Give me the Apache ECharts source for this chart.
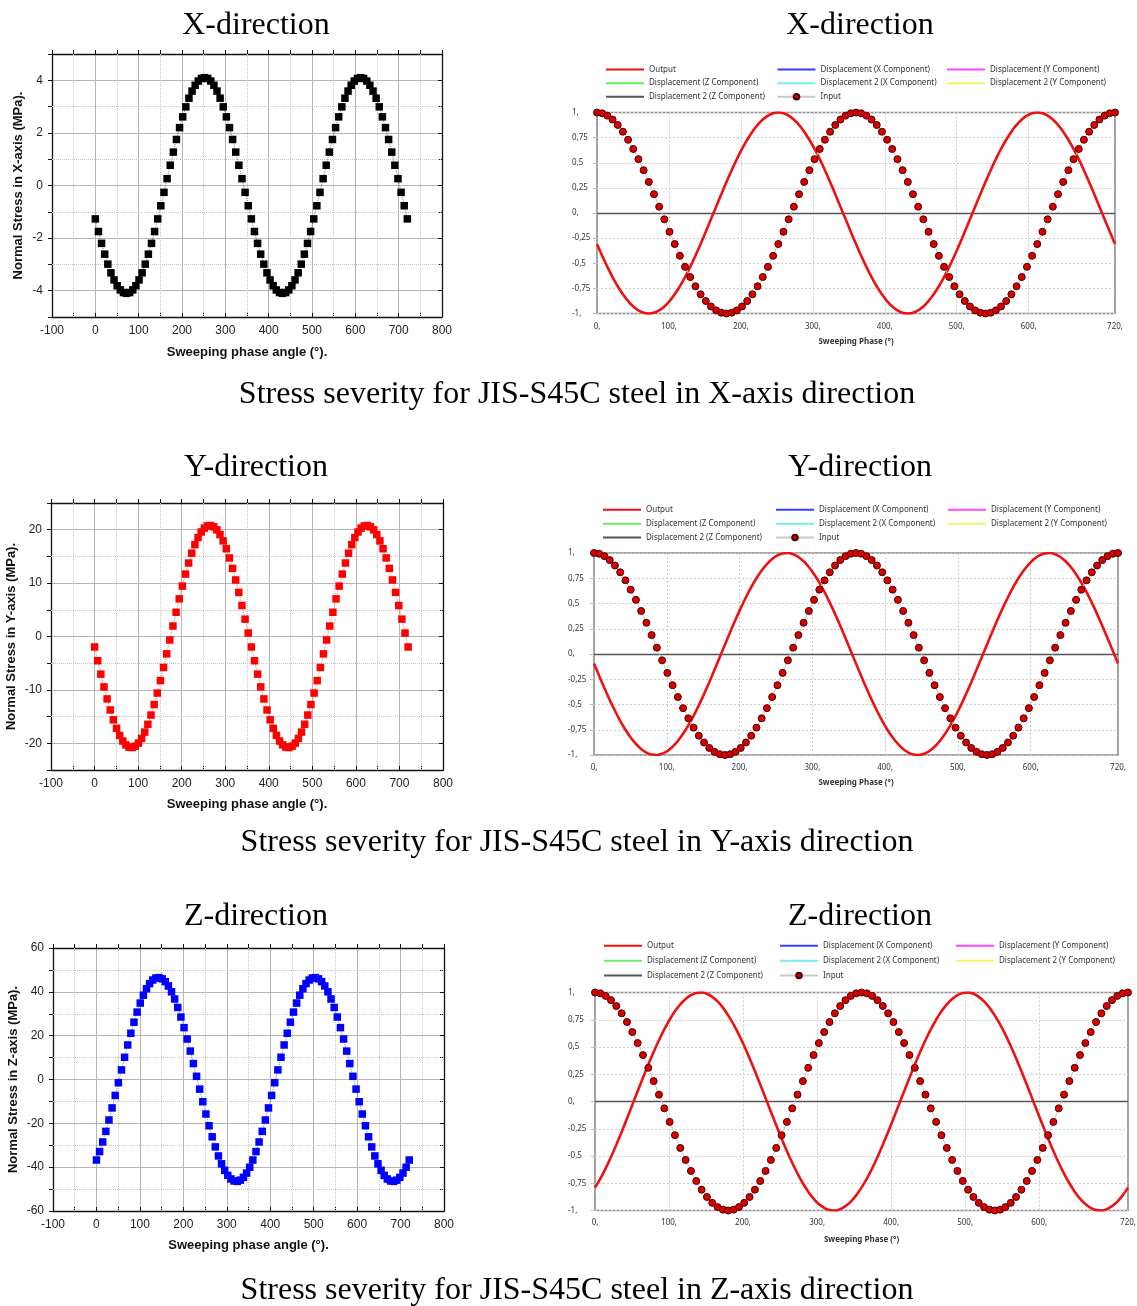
<!DOCTYPE html>
<html>
<head>
<meta charset="utf-8">
<script src="https://cdn.jsdelivr.net/npm/echarts@6/dist/echarts.min.js"></script>
<style>
html,body{margin:0;padding:0;background:#ffffff;}
#c{width:1137px;height:1306px;}
</style>
</head>
<body>
<div id="c"></div>
<script>
// ---------------- DATA ----------------
const phase = [
0,7.2,14.4,21.6,28.8,36,43.2,50.4,57.6,64.8,
72,79.2,86.4,93.6,100.8,108,115.2,122.4,129.6,136.8,
144,151.2,158.4,165.6,172.8,180,187.2,194.4,201.6,208.8,
216,223.2,230.4,237.6,244.8,252,259.2,266.4,273.6,280.8,
288,295.2,302.4,309.6,316.8,324,331.2,338.4,345.6,352.8,
360,367.2,374.4,381.6,388.8,396,403.2,410.4,417.6,424.8,
432,439.2,446.4,453.6,460.8,468,475.2,482.4,489.6,496.8,
504,511.2,518.4,525.6,532.8,540,547.2,554.4,561.6,568.8,
576,583.2,590.4,597.6,604.8,612,619.2,626.4,633.6,640.8,
648,655.2,662.4,669.6,676.8,684,691.2,698.4,705.6,712.8,
720];

// Normal stress, X direction (MPa)
const stressX = [
-1.27,-1.75,-2.20,-2.61,-2.99,-3.32,-3.59,-3.81,-3.97,-4.07,
-4.10,-4.07,-3.97,-3.81,-3.59,-3.32,-2.99,-2.61,-2.20,-1.75,
-1.27,-0.77,-0.26,0.26,0.77,1.27,1.75,2.20,2.61,2.99,
3.32,3.59,3.81,3.97,4.07,4.10,4.07,3.97,3.81,3.59,
3.32,2.99,2.61,2.20,1.75,1.27,0.77,0.26,-0.26,-0.77,
-1.27,-1.75,-2.20,-2.61,-2.99,-3.32,-3.59,-3.81,-3.97,-4.07,
-4.10,-4.07,-3.97,-3.81,-3.59,-3.32,-2.99,-2.61,-2.20,-1.75,
-1.27,-0.77,-0.26,0.26,0.77,1.27,1.75,2.20,2.61,2.99,
3.32,3.59,3.81,3.97,4.07,4.10,4.07,3.97,3.81,3.59,
3.32,2.99,2.61,2.20,1.75,1.27,0.77,0.26,-0.26,-0.77,
-1.27];

// Normal stress, Y direction (MPa)
const stressY = [
-1.96,-4.54,-7.05,-9.44,-11.69,-13.76,-15.60,-17.20,-18.53,-19.57,
-20.30,-20.71,-20.79,-20.54,-19.97,-19.09,-17.90,-16.44,-14.71,-12.75,
-10.59,-8.26,-5.80,-3.25,-0.65,1.96,4.54,7.05,9.44,11.69,
13.76,15.60,17.20,18.53,19.57,20.30,20.71,20.79,20.54,19.97,
19.09,17.90,16.44,14.71,12.75,10.59,8.26,5.80,3.25,0.65,
-1.96,-4.54,-7.05,-9.44,-11.69,-13.76,-15.60,-17.20,-18.53,-19.57,
-20.30,-20.71,-20.79,-20.54,-19.97,-19.09,-17.90,-16.44,-14.71,-12.75,
-10.59,-8.26,-5.80,-3.25,-0.65,1.96,4.54,7.05,9.44,11.69,
13.76,15.60,17.20,18.53,19.57,20.30,20.71,20.79,20.54,19.97,
19.09,17.90,16.44,14.71,12.75,10.59,8.26,5.80,3.25,0.65,
-1.96];

// Normal stress, Z direction (MPa)
const stressZ = [
-36.74,-32.88,-28.50,-23.67,-18.47,-12.97,-7.27,-1.46,4.38,10.14,
15.75,21.11,26.14,30.75,34.88,38.46,41.43,43.75,45.38,46.29,
46.48,45.93,44.65,42.68,40.02,36.74,32.88,28.50,23.67,18.47,
12.97,7.27,1.46,-4.38,-10.14,-15.75,-21.11,-26.14,-30.75,-34.88,
-38.46,-41.43,-43.75,-45.38,-46.29,-46.48,-45.93,-44.65,-42.68,-40.02,
-36.74,-32.88,-28.50,-23.67,-18.47,-12.97,-7.27,-1.46,4.38,10.14,
15.75,21.11,26.14,30.75,34.88,38.46,41.43,43.75,45.38,46.29,
46.48,45.93,44.65,42.68,40.02,36.74,32.88,28.50,23.67,18.47,
12.97,7.27,1.46,-4.38,-10.14,-15.75,-21.11,-26.14,-30.75,-34.88,
-38.46,-41.43,-43.75,-45.38,-46.29,-46.48,-45.93,-44.65,-42.68,-40.02,
-36.74];

// Normalised input (same in all three ANSYS plots)
const inputWave = [
1,0.992,0.969,0.930,0.876,0.809,0.729,0.637,0.536,0.426,
0.309,0.187,0.063,-0.063,-0.187,-0.309,-0.426,-0.536,-0.637,-0.729,
-0.809,-0.876,-0.930,-0.969,-0.992,-1,-0.992,-0.969,-0.930,-0.876,
-0.809,-0.729,-0.637,-0.536,-0.426,-0.309,-0.187,-0.063,0.063,0.187,
0.309,0.426,0.536,0.637,0.729,0.809,0.876,0.930,0.969,0.992,
1,0.992,0.969,0.930,0.876,0.809,0.729,0.637,0.536,0.426,
0.309,0.187,0.063,-0.063,-0.187,-0.309,-0.426,-0.536,-0.637,-0.729,
-0.809,-0.876,-0.930,-0.969,-0.992,-1,-0.992,-0.969,-0.930,-0.876,
-0.809,-0.729,-0.637,-0.536,-0.426,-0.309,-0.187,-0.063,0.063,0.187,
0.309,0.426,0.536,0.637,0.729,0.809,0.876,0.930,0.969,0.992,
1];

// Normalised output, X direction
const outputX = [
-0.309,-0.426,-0.536,-0.637,-0.729,-0.809,-0.876,-0.930,-0.969,-0.992,
-1,-0.992,-0.969,-0.930,-0.876,-0.809,-0.729,-0.637,-0.536,-0.426,
-0.309,-0.187,-0.063,0.063,0.187,0.309,0.426,0.536,0.637,0.729,
0.809,0.876,0.930,0.969,0.992,1,0.992,0.969,0.930,0.876,
0.809,0.729,0.637,0.536,0.426,0.309,0.187,0.063,-0.063,-0.187,
-0.309,-0.426,-0.536,-0.637,-0.729,-0.809,-0.876,-0.930,-0.969,-0.992,
-1,-0.992,-0.969,-0.930,-0.876,-0.809,-0.729,-0.637,-0.536,-0.426,
-0.309,-0.187,-0.063,0.063,0.187,0.309,0.426,0.536,0.637,0.729,
0.809,0.876,0.930,0.969,0.992,1,0.992,0.969,0.930,0.876,
0.809,0.729,0.637,0.536,0.426,0.309,0.187,0.063,-0.063,-0.187,
-0.309];

// Normalised output, Y direction
const outputY = [
-0.094,-0.218,-0.339,-0.454,-0.562,-0.661,-0.750,-0.827,-0.891,-0.941,
-0.976,-0.996,-1.000,-0.988,-0.960,-0.918,-0.861,-0.790,-0.707,-0.613,
-0.509,-0.397,-0.279,-0.156,-0.031,0.094,0.218,0.339,0.454,0.562,
0.661,0.750,0.827,0.891,0.941,0.976,0.996,1.000,0.988,0.960,
0.918,0.861,0.790,0.707,0.613,0.509,0.397,0.279,0.156,0.031,
-0.094,-0.218,-0.339,-0.454,-0.562,-0.661,-0.750,-0.827,-0.891,-0.941,
-0.976,-0.996,-1.000,-0.988,-0.960,-0.918,-0.861,-0.790,-0.707,-0.613,
-0.509,-0.397,-0.279,-0.156,-0.031,0.094,0.218,0.339,0.454,0.562,
0.661,0.750,0.827,0.891,0.941,0.976,0.996,1.000,0.988,0.960,
0.918,0.861,0.790,0.707,0.613,0.509,0.397,0.279,0.156,0.031,
-0.094];

// Normalised output, Z direction
const outputZ = [
-0.790,-0.707,-0.613,-0.509,-0.397,-0.279,-0.156,-0.031,0.094,0.218,
0.339,0.454,0.562,0.661,0.750,0.827,0.891,0.941,0.976,0.996,
1.000,0.988,0.960,0.918,0.861,0.790,0.707,0.613,0.509,0.397,
0.279,0.156,0.031,-0.094,-0.218,-0.339,-0.454,-0.562,-0.661,-0.750,
-0.827,-0.891,-0.941,-0.976,-0.996,-1.000,-0.988,-0.960,-0.918,-0.861,
-0.790,-0.707,-0.613,-0.509,-0.397,-0.279,-0.156,-0.031,0.094,0.218,
0.339,0.454,0.562,0.661,0.750,0.827,0.891,0.941,0.976,0.996,
1.000,0.988,0.960,0.918,0.861,0.790,0.707,0.613,0.509,0.397,
0.279,0.156,0.031,-0.094,-0.218,-0.339,-0.454,-0.562,-0.661,-0.750,
-0.827,-0.891,-0.941,-0.976,-0.996,-1.000,-0.988,-0.960,-0.918,-0.861,
-0.790];

// Texts
const leftYNames = ['Normal Stress in X-axis (MPa).', 'Normal Stress in Y-axis (MPa).', 'Normal Stress in Z-axis (MPa).'];
const leftXName = 'Sweeping phase angle (°).';
const rightXName = 'Sweeping Phase (°)';
const panelTitles = ['X-direction', 'Y-direction', 'Z-direction'];
const captions = [
  'Stress severity for JIS-S45C steel in X-axis direction',
  'Stress severity for JIS-S45C steel in Y-axis direction',
  'Stress severity for JIS-S45C steel in Z-axis direction'
];
const legendColumns = [
  ['Output', 'Displacement (Z Component)', 'Displacement 2 (Z Component)'],
  ['Displacement (X Component)', 'Displacement 2 (X Component)', 'Input'],
  ['Displacement (Y Component)', 'Displacement 2 (Y Component)']
];
const emptyLegendSeries = [
  ['Displacement (X Component)', '#3b3bff'],
  ['Displacement (Y Component)', '#ff44ff'],
  ['Displacement (Z Component)', '#66ee66'],
  ['Displacement 2 (X Component)', '#77eeee'],
  ['Displacement 2 (Y Component)', '#f2f26a'],
  ['Displacement 2 (Z Component)', '#555555']
];

// ---------------- LAYOUT ----------------
function pairs(ys) { return phase.map((p, i) => [p, ys[i]]); }

const leftCharts = [
  {left:52, top:54, width:390, height:263, ymin:-5, ymax:5, ystep:1, ymajor:2, values:stressX, color:'#000000', yname:leftYNames[0], yGap:27, xGap:29},
  {left:51, top:503, width:392, height:267, ymin:-25, ymax:25, ystep:5, ymajor:10, values:stressY, color:'#ff0000', yname:leftYNames[1], yGap:33, xGap:28},
  {left:53, top:948, width:391, height:263, ymin:-60, ymax:60, ystep:10, ymajor:20, values:stressZ, color:'#0000ff', yname:leftYNames[2], yGap:33, xGap:28}
];
const rightCharts = [
  {left:597, top:112.5, width:518, height:201, out:outputX, legendRow:69, pitch:12.65, cols:[605,776.5,946], ym:25, xm:9, nameGap:24},
  {left:594, top:553, width:524, height:202, out:outputY, legendRow:509.3, pitch:12.85, cols:[602,775,947], ym:26, xm:9, nameGap:24},
  {left:595, top:992.5, width:533, height:218, out:outputZ, legendRow:945.3, pitch:13.85, cols:[603,779,955], ym:27, xm:8, nameGap:25}
];

const grid = [], xAxis = [], yAxis = [], series = [], legend = [], graphic = [];
const MAJOR = '#b5b5b5', NONE = 'rgba(0,0,0,0)', FRAME = '#111111';
const labelFont = {fontFamily:'Liberation Sans', fontSize:12, color:'#222222'};
const nameFont = {fontFamily:'Liberation Sans', fontSize:13, fontWeight:'bold', color:'#111111'};

leftCharts.forEach((c) => {
  const gi = grid.length;
  grid.push({left:c.left, top:c.top, width:c.width, height:c.height, containLabel:false, outerBoundsMode:'none'});
  const xi = xAxis.length, yi = yAxis.length;
  const xColors = [];
  for (let v = -100; v <= 800; v += 50) xColors.push(v % 100 === 0 ? MAJOR : NONE);
  const yColors = [];
  for (let v = c.ymin; v <= c.ymax; v += c.ystep) yColors.push(v % c.ymajor === 0 ? MAJOR : NONE);
  xAxis.push({gridIndex:gi, type:'value', position:'bottom', min:-100, max:800, interval:50,
    axisLine:{show:true, onZero:false, lineStyle:{color:FRAME, width:1.3}},
    axisTick:{show:true, inside:true, length:4, lineStyle:{color:FRAME}},
    axisLabel:Object.assign({margin:8, formatter:(v) => (v % 100 === 0 ? String(v) : '')}, labelFont),
    splitLine:{show:true, lineStyle:{color:xColors, width:1}},
    name:leftXName, nameLocation:'middle', nameGap:c.xGap, nameTextStyle:nameFont});
  xAxis.push({gridIndex:gi, type:'value', position:'top', min:-100, max:800, interval:50,
    axisLine:{show:true, onZero:false, lineStyle:{color:FRAME, width:1.3}},
    axisTick:{show:true, inside:false, length:4, lineStyle:{color:FRAME}},
    axisLabel:{show:false}, splitLine:{show:false}});
  yAxis.push({gridIndex:gi, type:'value', position:'left', min:c.ymin, max:c.ymax, interval:c.ystep,
    axisLine:{show:true, onZero:false, lineStyle:{color:FRAME, width:1.3}},
    axisTick:{show:true, inside:false, length:4, lineStyle:{color:FRAME}},
    axisLabel:Object.assign({margin:9, formatter:(v) => (v % c.ymajor === 0 ? String(v) : '')}, labelFont),
    splitLine:{show:true, lineStyle:{color:yColors, width:1}},
    name:c.yname, nameLocation:'middle', nameGap:c.yGap, nameTextStyle:nameFont});
  yAxis.push({gridIndex:gi, type:'value', position:'right', min:c.ymin, max:c.ymax, interval:c.ystep,
    axisLine:{show:true, onZero:false, lineStyle:{color:FRAME, width:1.3}},
    axisTick:{show:true, inside:true, length:4, lineStyle:{color:FRAME}},
    axisLabel:{show:false}, splitLine:{show:false}});
  // minor dotted grid lines (drawn underneath the markers)
  const minor = [];
  for (let v = -50; v < 800; v += 100) minor.push({xAxis:v});
  for (let v = c.ymin + c.ystep; v < c.ymax; v += c.ystep) if (v % c.ymajor !== 0) minor.push({yAxis:v});
  series.push({type:'line', xAxisIndex:xi, yAxisIndex:yi, data:[], silent:true, z:1,
    markLine:{z:1, silent:true, symbol:'none', label:{show:false}, animation:false,
      lineStyle:{type:'dotted', color:'#c4c4c4', width:1}, data:minor}});
  series.push({type:'line', xAxisIndex:xi, yAxisIndex:yi, data:pairs(c.values), z:3, silent:true,
    symbol:'rect', symbolSize:7.5, showAllSymbol:true,
    itemStyle:{color:c.color, borderWidth:0, opacity:1},
    lineStyle:{color:c.color, width:1, type:'dotted', opacity:0.5}});
});

function commaFmt(v) {
  let s = String(+v.toFixed(2)).replace('.', ',');
  if (s.indexOf(',') < 0) s += ',';
  return s;
}

rightCharts.forEach((c, ri) => {
  const gi = grid.length;
  grid.push({left:c.left, top:c.top, width:c.width, height:c.height, show:true,
    borderColor:'#8c8c8c', borderWidth:1.6, backgroundColor:'rgba(0,0,0,0)', containLabel:false, outerBoundsMode:'none'});
  const xi = xAxis.length, yi = yAxis.length;
  const G = '#cccccc';
  xAxis.push({gridIndex:gi, type:'value', min:0, max:720, interval:100,
    axisLine:{show:false, onZero:false}, axisTick:{show:false},
    axisLabel:{margin:c.xm, fontSize:8, color:'#333333', fontFamily:'Noto Sans',
      formatter:(v) => (v === 700 ? '' : v + ',')},
    splitLine:{show:true, lineStyle:{color:[NONE,G,G,G,G,G,G,NONE,NONE], type:[2,2], width:1}},
    name:rightXName, nameLocation:'middle', nameGap:c.nameGap,
    nameTextStyle:{fontSize:8, fontWeight:'bold', color:'#333333', fontFamily:'Noto Sans'}});
  yAxis.push({gridIndex:gi, type:'value', min:-1, max:1, interval:0.25,
    axisLine:{show:false, onZero:false},
    axisTick:{show:true, length:4, lineStyle:{color:'#bbbbbb'}},
    axisLabel:{margin:c.ym, align:'left', fontSize:8, color:'#333333', fontFamily:'Noto Sans', formatter:commaFmt},
    splitLine:{show:true, lineStyle:{color:G, type:[2,2], width:1}}});
  series.push({type:'line', name:'Output', xAxisIndex:xi, yAxisIndex:yi, data:pairs(c.out), z:3, silent:true,
    symbol:'none', smooth:0.3, clip:true,
    itemStyle:{color:'#ee1111'}, lineStyle:{color:'#ee1111', width:2.6}});
  series.push({type:'line', name:'Input', xAxisIndex:xi, yAxisIndex:yi, data:pairs(inputWave), z:4, silent:true,
    symbol:'circle', symbolSize:7, showAllSymbol:true,
    itemStyle:{color:'#d80000', borderColor:'#4a0000', borderWidth:1},
    lineStyle:{color:'#c9c9c9', width:1},
    markLine:{z:2, silent:true, symbol:'none', label:{show:false}, animation:false,
      lineStyle:{type:'solid', color:'#555555', width:1.3}, data:[{yAxis:0}]}});
  if (ri === 0) {
    emptyLegendSeries.forEach(([name, col]) => {
      series.push({type:'line', name:name, xAxisIndex:xi, yAxisIndex:yi, data:[], symbol:'none',
        itemStyle:{color:col}, lineStyle:{color:col, width:1}});
    });
  }
  legendColumns.forEach((names, ci) => {
    legend.push({orient:'vertical', left:c.cols[ci], top:c.legendRow - 3.5, padding:0,
      itemWidth:38, itemHeight:7, itemGap:c.pitch - 7, selectedMode:false,
      textStyle:{fontSize:8, color:'#333333', fontFamily:'Noto Sans', lineHeight:7},
      data:names.map((n) => (n === 'Input' ? {name:n} : {name:n, itemStyle:{opacity:0, borderWidth:0}}))});
  });
});

// titles and captions
const titleRows = [26, 468, 917];
const captionRows = [395, 843, 1291];
titleRows.forEach((y, i) => {
  [256, 860].forEach((x) => {
    graphic.push({type:'text', x:x, y:y, silent:true,
      style:{text:panelTitles[i], font:'32px "Liberation Serif"', fill:'#000000', textAlign:'center', textVerticalAlign:'middle'}});
  });
  graphic.push({type:'text', x:577, y:captionRows[i], silent:true,
    style:{text:captions[i], font:'32px "Liberation Serif"', fill:'#000000', textAlign:'center', textVerticalAlign:'middle'}});
});

const chart = echarts.init(document.getElementById('c'), null, {renderer:'canvas'});
chart.setOption({
  animation:false,
  backgroundColor:'#ffffff',
  textStyle:{fontFamily:'Liberation Sans'},
  grid:grid, xAxis:xAxis, yAxis:yAxis, series:series, legend:legend, graphic:graphic
});
</script>
</body>
</html>
